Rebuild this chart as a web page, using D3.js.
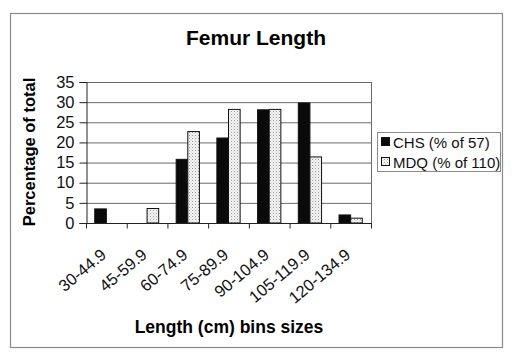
<!DOCTYPE html>
<html><head><meta charset="utf-8">
<script src="https://cdn.jsdelivr.net/npm/d3@7"></script>
<style>body{margin:0;background:#fff}svg{display:block}text{font-family:"Liberation Sans",Arial,sans-serif}</style>
</head><body>
<svg id="c" width="514" height="356"></svg>
<script>
const categories = ["30-44.9","45-59.9","60-74.9","75-89.9","90-104.9","105-119.9","120-134.9"];
const chsValues = [3.5, 0, 15.8, 21.1, 28.1, 29.8, 2.0];
const mdqValues = [0, 3.6, 22.7, 28.2, 28.2, 16.4, 1.2];
const seriesNames = ["CHS (% of 57)", "MDQ (% of 110)"];
const yTicks = [0,5,10,15,20,25,30,35];

const svg = d3.select("#c");
const defs = svg.append("defs");
const pat = defs.append("pattern").attr("id","dots").attr("patternUnits","userSpaceOnUse").attr("width",3).attr("height",3);
pat.append("rect").attr("width",3).attr("height",3).attr("fill","#f6f6f6");
pat.append("rect").attr("x",0).attr("y",0).attr("width",1).attr("height",1).attr("fill","#999");
pat.append("rect").attr("x",1.5).attr("y",1.5).attr("width",1).attr("height",1).attr("fill","#bbb");

// outer frame
svg.append("rect").attr("x",10.5).attr("y",13.5).attr("width",492).attr("height",334)
  .attr("fill","#fff").attr("stroke","#8a8a8a").attr("stroke-width",1.2);

const m = {l:86, t:82, r:371, b:223};
const x = d3.scaleBand().domain(categories).range([m.l, m.r]);
const y = d3.scaleLinear().domain([0,35]).range([m.b, m.t]);

// gridlines
svg.append("g").selectAll("line").data(yTicks.filter(d=>d>0)).join("line")
  .attr("x1",m.l).attr("x2",m.r).attr("y1",d=>y(d)+0.5).attr("y2",d=>y(d)+0.5)
  .attr("stroke","#6a6a6a").attr("stroke-width",1);
// right border
svg.append("line").attr("x1",m.r+0.5).attr("x2",m.r+0.5).attr("y1",m.t).attr("y2",m.b).attr("stroke","#6a6a6a");

// bars
const bw = x.bandwidth()/3.5;
const series = [chsValues, mdqValues];
series.forEach((vals,si)=>{
  svg.append("g").selectAll("rect").data(categories.map((c,i)=>({c,v:vals[i]})).filter(d=>d.v>0)).join("rect")
    .attr("x",d=>x(d.c)+0.75*bw+si*bw)
    .attr("y",d=>y(d.v))
    .attr("width",bw)
    .attr("height",d=>y(0)-y(d.v))
    .attr("fill",si===0?"#0a0a0a":"url(#dots)")
    .attr("stroke","#111").attr("stroke-width",1);
});

// y axis
const ya = d3.axisLeft(y).tickValues(yTicks).tickSize(7).tickPadding(5);
const gy = svg.append("g").attr("transform",`translate(${m.l+0.5},0)`).call(ya);
gy.select(".domain").attr("stroke","#222");
gy.selectAll(".tick line").attr("stroke","#222");
gy.selectAll("text").attr("font-size",16.5).attr("fill","#111");

// x axis
const gx = svg.append("g").attr("transform",`translate(0,${m.b+0.5})`);
gx.append("line").attr("x1",m.l).attr("x2",m.r+1).attr("stroke","#222");
const bounds = categories.map(c=>x(c)).concat([m.r]);
gx.selectAll("line.t").data(bounds).join("line").attr("class","t")
  .attr("x1",d=>d+0.5).attr("x2",d=>d+0.5).attr("y1",0).attr("y2",5).attr("stroke","#222");
gx.selectAll("text").data(categories).join("text")
  .attr("transform",d=>`translate(${x(d)+x.bandwidth()/2+1},${33}) rotate(-40)`)
  .attr("text-anchor","end").attr("font-size",16.5).attr("fill","#111").text(d=>d);

// titles
svg.append("text").attr("x",256).attr("y",45).attr("text-anchor","middle")
  .attr("font-size",21).attr("font-weight","bold").text("Femur Length");
svg.append("text").attr("transform","translate(35,152) rotate(-90)").attr("text-anchor","middle")
  .attr("font-size",16.5).attr("font-weight","bold").text("Percentage of total");
svg.append("text").attr("x",229).attr("y",333).attr("text-anchor","middle")
  .attr("font-size",17.5).attr("font-weight","bold").text("Length (cm) bins sizes");

// legend
const lg = svg.append("g");
lg.append("rect").attr("x",377.5).attr("y",132.5).attr("width",123).attr("height",39)
  .attr("fill","#fff").attr("stroke","#8a8a8a");
seriesNames.forEach((n,i)=>{
  const cy = 142 + i*20;
  lg.append("rect").attr("x",381.5).attr("y",cy-4.5).attr("width",8).attr("height",8)
    .attr("fill",i===0?"#0a0a0a":"url(#dots)").attr("stroke","#111");
  lg.append("text").attr("x",393).attr("y",cy+5.5).attr("font-size",15).attr("fill","#111").text(n);
});
</script>
</body></html>
